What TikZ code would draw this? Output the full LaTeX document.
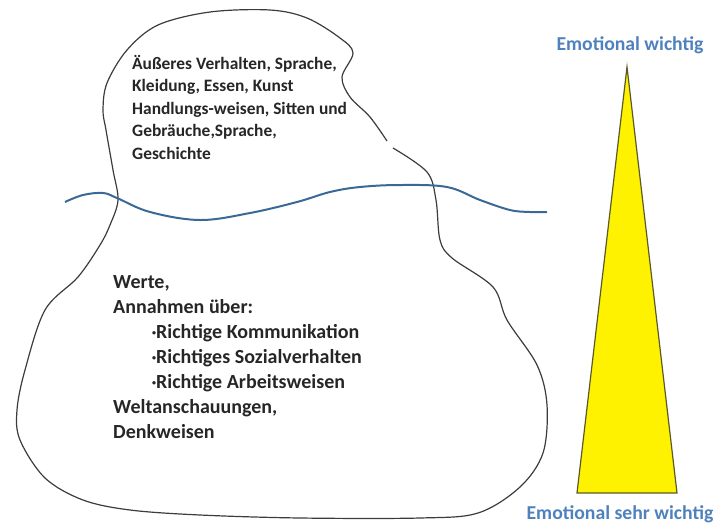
\documentclass[tikz,border=0pt]{standalone}
\usepackage{fontspec}
\setmainfont{Carlito}
\definecolor{wavecol}{RGB}{58,105,150}
\definecolor{labcol}{RGB}{79,129,189}
\definecolor{outl}{RGB}{60,60,60}
\definecolor{triedge}{RGB}{90,90,40}
\newcommand{\smbul}{\raisebox{0.25ex}{\fontsize{8}{8}\selectfont•}}
\tikzset{
  bodytext/.style={align=left,anchor=north west,inner sep=0pt,text=black!85},
  lab/.style={font=\bfseries\fontsize{19.7}{22}\selectfont,text=labcol,inner sep=0pt},
}
\begin{document}
\begin{tikzpicture}[x=1pt,y=-1pt]
\useasboundingbox (0,0) rectangle (723,523);
% iceberg outline
\draw[outl,line width=1.2pt] plot[smooth,tension=0.55] coordinates {
 (393,148) (427,172) (436,200) (440,240) (452,258) (493,287) (507,320)
 (537,365) (547,405) (543,453) (520,487) (478,513) (420,518) (300,518)
 (200,515) (130,510) (83,500) (45,478) (20,440) (17,410) (25,370)
 (45,310) (78,277) (100,245) (110,225) (118,200) (113,170) (106,130) (103,110)
 (107,83) (127,50) (158,25) (210,12) (270,10) (307,18) (340,38) (353,53)
 (342,77) (350,97) (370,117) (387,141)};
% water line
\draw[wavecol,line width=2pt] plot[smooth,tension=0.6] coordinates {
 (65,202) (83,195) (103,193) (117,198) (150,212) (200,220) (250,213)
 (297,202) (330,192) (360,187) (400,185) (447,187) (480,200)
 (510,210) (530,212) (547,212)};
% text above
\node[bodytext,font=\bfseries\fontsize{17.4}{22.5}\selectfont] (top) at (132,55)
 {Äußeres Verhalten,  Sprache,\\Kleidung,  Essen,  Kunst\\Handlungs-weisen,  Sitten und\\Gebräuche,Sprache,\\Geschichte};
% text below
\node[bodytext,font=\bfseries\fontsize{20}{25}\selectfont] (bottom) at (113,275)
 {Werte,\\Annahmen über:\\\hspace*{39pt}\smbul Richtige Kommunikation\\\hspace*{39pt}\smbul Richtiges Sozialverhalten\\\hspace*{39pt}\smbul Richtige Arbeitsweisen\\Weltanschauungen,\\Denkweisen};
% triangle
\coordinate (apex) at (627,67);
\coordinate (bl) at (577,493);
\coordinate (br) at (677,493);
\draw[triedge,fill=yellow,line width=1.2pt] (apex) -- (br) -- (bl) -- cycle;
\node[lab] (ltop) at (630,45) {Emotional wichtig};
\node[lab] (lbot) at (620,514) {Emotional sehr wichtig};
\end{tikzpicture}
\end{document}
